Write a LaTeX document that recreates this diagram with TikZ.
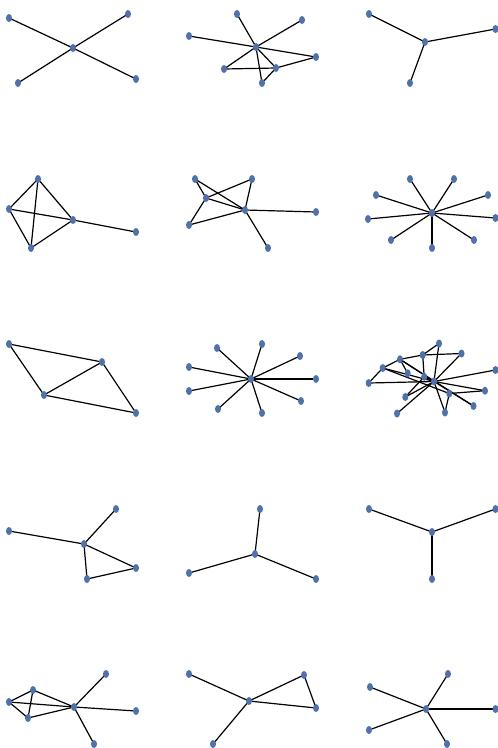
\documentclass[tikz,border=0pt]{standalone}
\usetikzlibrary{shapes.geometric}
\definecolor{nodeblue}{HTML}{4C72B0}
\pgfdeclarelayer{bg}
\pgfsetlayers{bg,main}
\tikzset{
  v/.style={ellipse,fill=nodeblue,draw=none,inner sep=0pt,minimum width=6pt,minimum height=8pt},
  e/.style={black,line width=1.2pt}
}
\newcommand{\edges}[1]{\begin{pgfonlayer}{bg}\foreach \u/\w in {#1}{\draw[e] (\u.center) -- (\w.center);}\end{pgfonlayer}}
\begin{document}
\begin{tikzpicture}[x=1pt,y=-1pt]
\useasboundingbox (0,0) rectangle (498,748);
% Panel 1
\node[v] (p1c) at (73,48) {};
\node[v] (p1a) at (9,18) {};
\node[v] (p1b) at (128,14) {};
\node[v] (p1d) at (18,83) {};
\node[v] (p1e) at (136,79) {};
\edges{p1c/p1a,p1c/p1b,p1c/p1d,p1c/p1e}
% Panel 2
\node[v] (p2t) at (237,14) {};
\node[v] (p2u) at (302,20) {};
\node[v] (p2l) at (189,36) {};
\node[v] (p2c) at (256,47) {};
\node[v] (p2r) at (316,57) {};
\node[v] (p2a) at (224,69) {};
\node[v] (p2b) at (276,68) {};
\node[v] (p2d) at (262,83) {};
\edges{p2c/p2t,p2c/p2u,p2c/p2l,p2c/p2r,p2c/p2a,p2c/p2b,p2c/p2d,p2a/p2b,p2b/p2r,p2b/p2d}
% Panel 3
\node[v] (p3a) at (369,14) {};
\node[v] (p3c) at (425,42) {};
\node[v] (p3b) at (495.5,29) {};
\node[v] (p3d) at (410,83) {};
\edges{p3c/p3a,p3c/p3b,p3c/p3d}
% Panel 4
\node[v] (p4t) at (38,179) {};
\node[v] (p4l) at (9,209) {};
\node[v] (p4m) at (73,220) {};
\node[v] (p4b) at (31,248) {};
\node[v] (p4f) at (136,232) {};
\edges{p4t/p4l,p4t/p4m,p4t/p4b,p4l/p4m,p4l/p4b,p4b/p4m,p4m/p4f}
% Panel 5
\node[v] (p5a) at (195,179) {};
\node[v] (p5b) at (252,179) {};
\node[v] (p5c) at (206,198) {};
\node[v] (p5m) at (245,210) {};
\node[v] (p5r) at (316,212) {};
\node[v] (p5l) at (189,225) {};
\node[v] (p5d) at (268,248) {};
\edges{p5a/p5c,p5a/p5m,p5c/p5b,p5b/p5m,p5c/p5m,p5c/p5l,p5l/p5m,p5m/p5r,p5m/p5d}
% Panel 6
\node[v] (p6c) at (432,213) {};
\node[v] (p6a) at (410,179) {};
\node[v] (p6b) at (454,179) {};
\node[v] (p6d) at (376,195) {};
\node[v] (p6e) at (488,195) {};
\node[v] (p6f) at (368,219) {};
\node[v] (p6g) at (495.5,218) {};
\node[v] (p6h) at (391,240) {};
\node[v] (p6i) at (474,240) {};
\node[v] (p6j) at (432,248) {};
\edges{p6c/p6a,p6c/p6b,p6c/p6d,p6c/p6e,p6c/p6f,p6c/p6g,p6c/p6h,p6c/p6i,p6c/p6j}
% Panel 7
\node[v] (p7a) at (9,344) {};
\node[v] (p7b) at (102,362) {};
\node[v] (p7c) at (44,395) {};
\node[v] (p7d) at (136,413) {};
\edges{p7a/p7b,p7a/p7c,p7c/p7b,p7b/p7d,p7c/p7d}
% Panel 8
\node[v] (p8c) at (251,379) {};
\node[v] (p8a) at (217,348) {};
\node[v] (p8b) at (262,344) {};
\node[v] (p8d) at (300,356) {};
\node[v] (p8e) at (189,367) {};
\node[v] (p8f) at (316,379) {};
\node[v] (p8g) at (189,391) {};
\node[v] (p8h) at (301,401) {};
\node[v] (p8i) at (218,409) {};
\node[v] (p8j) at (262,413) {};
\edges{p8c/p8a,p8c/p8b,p8c/p8d,p8c/p8e,p8c/p8f,p8c/p8g,p8c/p8h,p8c/p8i,p8c/p8j}
% Panel 9
\node[v] (p9A) at (439,343.5) {};
\node[v] (p9B) at (461.5,353.5) {};
\node[v] (p9C) at (422.7,355) {};
\node[v] (p9D) at (400,359.3) {};
\node[v] (p9E) at (382.7,368) {};
\node[v] (p9F) at (495.5,370) {};
\node[v] (p9G) at (407.7,373.3) {};
\node[v] (p9H) at (424.2,376.8) {};
\node[v] (p9I) at (434,381.5) {};
\node[v] (p9J) at (368.7,383) {};
\node[v] (p9K) at (485,390.7) {};
\node[v] (p9L) at (449.3,393.5) {};
\node[v] (p9M) at (405.3,397) {};
\node[v] (p9N) at (473.5,406) {};
\node[v] (p9O) at (445,412.5) {};
\node[v] (p9P) at (397,413.5) {};
\edges{p9E/p9J,p9E/p9D,p9D/p9C,p9C/p9A,p9C/p9B,p9A/p9I,p9B/p9I,p9D/p9G,p9D/p9I,p9D/p9N,p9E/p9I,p9E/p9L,p9C/p9H,p9H/p9I,p9M/p9I,p9M/p9H,p9P/p9I,p9J/p9I,p9F/p9I,p9K/p9I,p9K/p9L,p9L/p9O,p9I/p9O,p9I/p9N}
% Panel 10
\node[v] (p10l) at (9,531) {};
\node[v] (p10t) at (116,509) {};
\node[v] (p10c) at (84,544) {};
\node[v] (p10r) at (136,568) {};
\node[v] (p10b) at (87,579) {};
\edges{p10l/p10c,p10c/p10t,p10c/p10r,p10c/p10b,p10b/p10r}
% Panel 11
\node[v] (p11t) at (260,509) {};
\node[v] (p11c) at (255,554) {};
\node[v] (p11l) at (189,573) {};
\node[v] (p11r) at (316,579) {};
\edges{p11c/p11t,p11c/p11l,p11c/p11r}
% Panel 12
\node[v] (p12a) at (369,509) {};
\node[v] (p12b) at (495.5,509) {};
\node[v] (p12c) at (432,532) {};
\node[v] (p12d) at (432,579) {};
\edges{p12c/p12a,p12c/p12b,p12c/p12d}
% Panel 13
\node[v] (p13t) at (106,674) {};
\node[v] (p13u) at (33,690) {};
\node[v] (p13l) at (9,702) {};
\node[v] (p13c) at (74,707) {};
\node[v] (p13r) at (136,711) {};
\node[v] (p13w) at (28,718) {};
\node[v] (p13b) at (94,744) {};
\edges{p13u/p13l,p13u/p13w,p13u/p13c,p13l/p13w,p13l/p13c,p13w/p13c,p13c/p13t,p13c/p13r,p13c/p13b}
% Panel 14
\node[v] (p14a) at (189,674) {};
\node[v] (p14c) at (249,701) {};
\node[v] (p14b) at (304,675) {};
\node[v] (p14r) at (316,708) {};
\node[v] (p14d) at (213,744) {};
\edges{p14a/p14c,p14c/p14b,p14c/p14r,p14b/p14r,p14c/p14d}
% Panel 15
\node[v] (p15t) at (448,674) {};
\node[v] (p15l) at (370,687) {};
\node[v] (p15c) at (426,709) {};
\node[v] (p15r) at (495.5,709) {};
\node[v] (p15m) at (369,730) {};
\node[v] (p15b) at (447,744) {};
\edges{p15c/p15t,p15c/p15l,p15c/p15r,p15c/p15m,p15c/p15b}
\end{tikzpicture}
\end{document}
